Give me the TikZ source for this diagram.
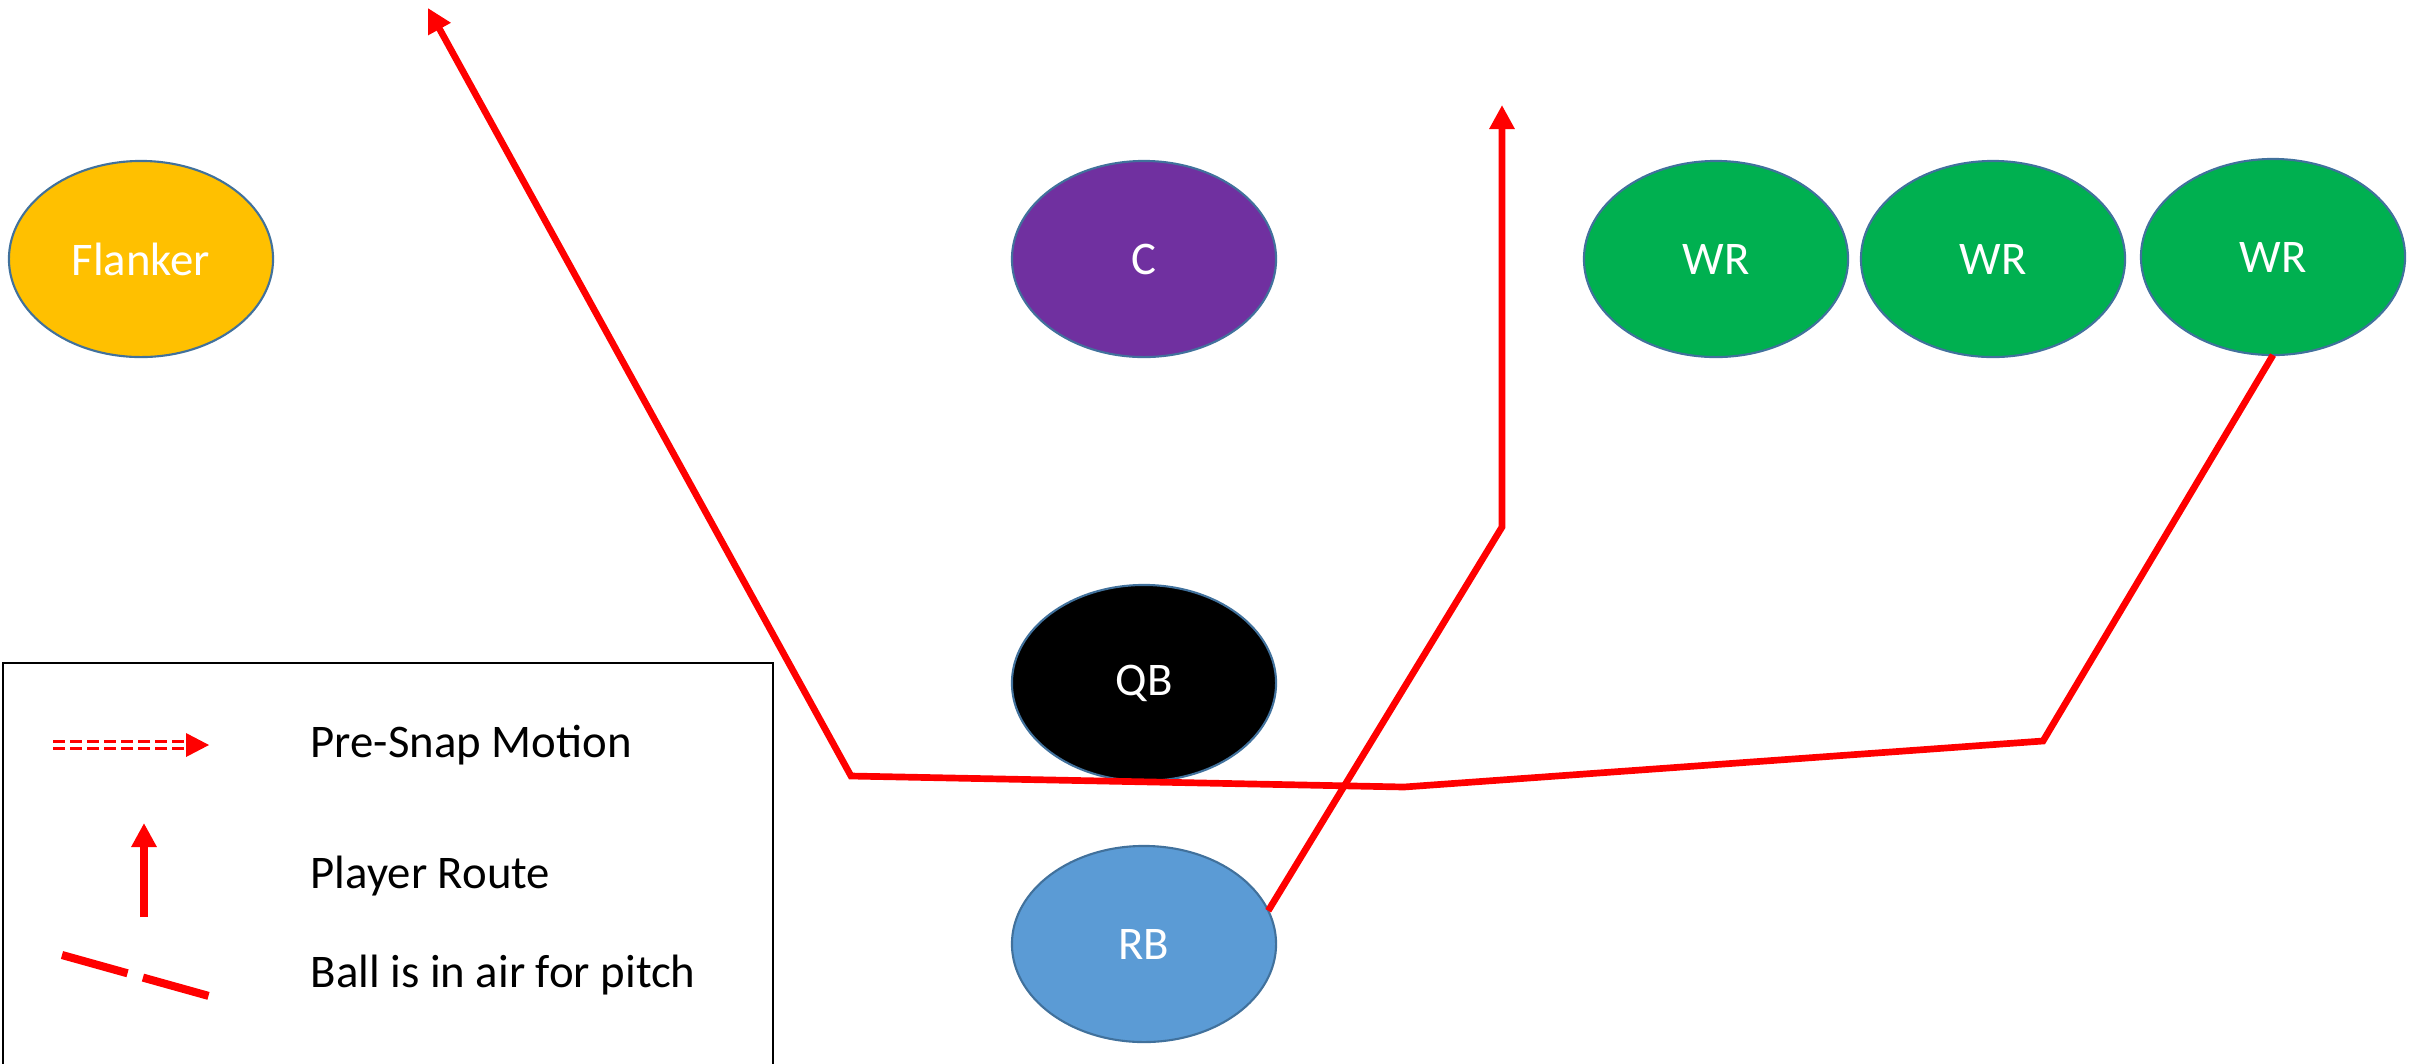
\documentclass[tikz,border=0pt]{standalone}
\usepackage{fontspec}
\setmainfont{Carlito}
\usetikzlibrary{shapes.geometric,arrows.meta}
\definecolor{jauneF}{HTML}{FFC000}
\definecolor{violetC}{HTML}{7030A0}
\definecolor{vertWR}{HTML}{00B050}
\definecolor{bleuRB}{HTML}{5B9BD5}
\definecolor{bordure}{HTML}{41719C}

\begin{document}
\begin{tikzpicture}[x=0.01cm,y=-0.01cm,
	joueur/.style={ellipse,draw=bordure,line width=0.6pt,minimum width=2.64cm,minimum height=1.96cm,inner sep=0pt,outer sep=0pt,text=white,font=\fontsize{13.3}{16}\selectfont},
	route/.style={draw=red,line width=1.9pt,-{Triangle[length=0.24cm,width=0.24cm]}},
	motion/.style={draw=red,line width=0.8pt,dash pattern=on 0.12cm off 0.05cm},
	passe/.style={draw=red,line width=2.3pt,dash pattern=on 0.68cm off 0.16cm},
	legende/.style={anchor=west,inner sep=0pt,font=\fontsize{13.3}{16}\selectfont}]
	%
	% Cadre de l'image
	\useasboundingbox (0,0) rectangle (2430,1063);
	%
	% Joueurs
	\node[joueur,fill=jauneF] (flanker) at (141,259) {Flanker};
	\node[joueur,fill=violetC] (c) at (1144,259) {C};
	\node[joueur,fill=vertWR] (wr1) at (1716,259) {WR};
	\node[joueur,fill=vertWR] (wr2) at (1993,259) {WR};
	\node[joueur,fill=vertWR] (wr3) at (2273,257) {WR};
	\node[joueur,fill=black] (qb) at (1144,683) {QB};
	\node[joueur,fill=bleuRB] (rb) at (1144,944) {RB};
	%
	% Trajet du WR
	\coordinate (r1) at (2043,741);
	\coordinate (r2) at (1404,787);
	\coordinate (r3) at (851,776);
	\coordinate (r4) at (428,8);
	\draw[route] (wr3.south) -- (r1) -- (r2) -- (r3) -- (r4);
	%
	% Trajet du RB
	\coordinate (s1) at (1502,527);
	\coordinate (s2) at (1502,105);
	\draw[route] (rb.15) -- (s1) -- (s2);
	%
	% Légende
	\draw[line width=0.8pt] (3,1075) -- (3,663) -- (773,663) -- (773,1075);
	\coordinate (m1) at (53,745);
	\coordinate (m2) at (186,745);
	\coordinate (m3) at (209,745);
	\draw[motion] ([yshift=0.9pt]m1) -- ([yshift=0.9pt]m2);
	\draw[motion] ([yshift=-0.9pt]m1) -- ([yshift=-0.9pt]m2);
	\fill[red] (186,733) -- (m3) -- (186,757) -- cycle;
	\coordinate (p1) at (144,917);
	\coordinate (p2) at (144,823);
	\draw[route,line width=2.2pt] (p1) -- (p2);
	\coordinate (b1) at (62,955);
	\coordinate (b2) at (209,996);
	\draw[passe] (b1) -- (b2);
	\node[legende] (t1) at (310,745) {Pre-Snap Motion};
	\node[legende] (t2) at (310,876) {Player Route};
	\node[legende] (t3) at (310,975) {Ball is in air for pitch};
\end{tikzpicture}
\end{document}
